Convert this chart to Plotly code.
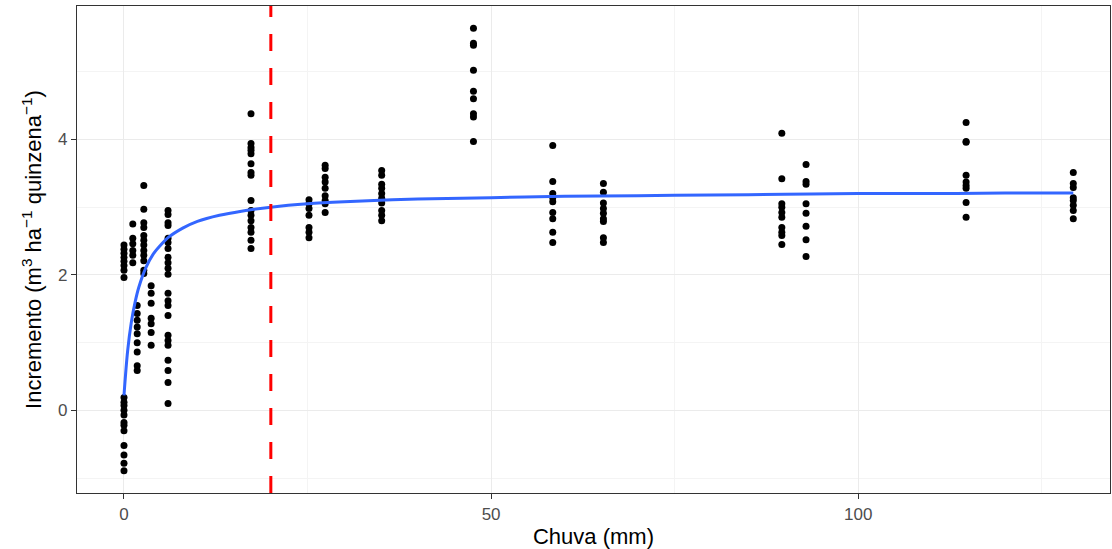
import plotly.graph_objects as go

# ---- data ----
chuva_niveis = [0, 1.2, 1.8, 2.7, 3.7, 6.0, 17.3, 25.2, 27.4, 35.1,
                47.6, 58.4, 65.3, 89.6, 92.9, 114.7, 129.3]

inc_0 = [2.44, 2.38, 2.32, 2.26, 2.20, 2.14, 2.07, 1.96,
         0.19, 0.12, 0.07, 0.0, -0.07, -0.18, -0.22, -0.30, -0.52, -0.66, -0.78, -0.89]
inc_1_2 = [2.75, 2.54, 2.46, 2.36, 2.29, 2.18]
inc_1_8 = [1.55, 1.43, 1.33, 1.23, 1.13, 1.00, 0.86, 0.66, 0.59]
inc_2_7 = [3.32, 2.97, 2.77, 2.70, 2.58, 2.51, 2.44, 2.36, 2.29, 2.21, 2.07, 2.02]
inc_3_7 = [1.84, 1.73, 1.58, 1.36, 1.28, 1.15, 0.96]
inc_6_0 = [2.95, 2.89, 2.77, 2.73, 2.54, 2.48, 2.39, 2.26, 2.18, 2.10, 2.01,
           1.73, 1.62, 1.55, 1.40, 1.11, 1.03, 0.96, 0.74, 0.59, 0.41, 0.10]
inc_17_3 = [4.38, 3.94, 3.88, 3.84, 3.79, 3.64, 3.51, 3.47, 3.10, 2.95, 2.88,
            2.80, 2.70, 2.63, 2.51, 2.39]
inc_25_2 = [3.11, 3.05, 2.98, 2.88, 2.70, 2.63, 2.55]
inc_27_4 = [3.62, 3.57, 3.44, 3.37, 3.28, 3.17, 3.10, 3.05, 2.92]
inc_35_1 = [3.54, 3.47, 3.34, 3.28, 3.20, 3.13, 3.06, 2.95, 2.88, 2.80]
inc_47_6 = [5.64, 5.42, 5.39, 5.02, 4.71, 4.60, 4.38, 4.33, 3.97]
inc_58_4 = [3.91, 3.38, 3.20, 3.14, 3.08, 2.92, 2.83, 2.63, 2.48]
inc_65_3 = [3.35, 3.22, 3.06, 2.98, 2.91, 2.83, 2.79, 2.55, 2.48]
inc_89_6 = [4.09, 3.42, 3.05, 3.00, 2.92, 2.85, 2.70, 2.63, 2.58, 2.45]
inc_92_9 = [3.63, 3.38, 3.34, 3.05, 2.91, 2.72, 2.52, 2.27]
inc_114_7 = [4.25, 3.97, 3.96, 3.47, 3.37, 3.32, 3.28, 3.07, 2.85]
inc_129_3 = [3.51, 3.35, 3.29, 3.14, 3.10, 3.03, 2.95, 2.83]

incremento_grupos = [inc_0, inc_1_2, inc_1_8, inc_2_7, inc_3_7, inc_6_0, inc_17_3,
                     inc_25_2, inc_27_4, inc_35_1, inc_47_6, inc_58_4, inc_65_3,
                     inc_89_6, inc_92_9, inc_114_7, inc_129_3]

# fitted curve (blue)
curva_x = [0, 0.5, 1, 1.5, 2, 3, 4, 5, 6, 8, 10, 13, 16, 20, 25, 30, 40, 50,
           60, 70, 80, 90, 100, 110, 120, 129.3]
curva_y = [0.22, 0.88, 1.30, 1.59, 1.81, 2.11, 2.31, 2.44, 2.55, 2.69, 2.79, 2.88,
           2.94, 3.00, 3.05, 3.08, 3.12, 3.14, 3.16, 3.17, 3.18, 3.19, 3.20, 3.20,
           3.21, 3.21]

limiar_chuva = 20

x_ticks = [0, 50, 100]
x_minor = [25, 75, 125]
y_ticks = [0, 2, 4]
y_minor = [-1, 1, 3, 5]

# ---- build figure ----
pts_x, pts_y = [], []
for xv, grupo in zip(chuva_niveis, incremento_grupos):
    pts_x += [xv] * len(grupo)
    pts_y += grupo

fig = go.Figure()
fig.add_trace(go.Scatter(x=pts_x, y=pts_y, mode="markers",
                         marker=dict(color="black", size=7, line=dict(width=0)),
                         hoverinfo="skip"))
fig.add_trace(go.Scatter(x=curva_x, y=curva_y, mode="lines",
                         line=dict(color="#3366FF", width=3, shape="spline"),
                         hoverinfo="skip"))

fig.add_shape(type="line", xref="x", yref="paper", x0=limiar_chuva, x1=limiar_chuva,
              y0=0, y1=1, line=dict(color="#FF0000", width=3, dash="17px,17px"),
              layer="above")

axis_common = dict(
    showgrid=True, gridcolor="#EBEBEB", gridwidth=1.1,
    zeroline=False, ticks="outside", ticklen=5, tickwidth=1, tickcolor="#333333",
    tickfont=dict(size=17, color="#4D4D4D", family="Liberation Sans"),
    showline=True, linecolor="#333333", linewidth=1.2, mirror=True,
)

fig.update_xaxes(range=[-6.4, 134.3], tickvals=x_ticks,
                 minor=dict(tickvals=x_minor, showgrid=True, gridcolor="#F4F4F4",
                            gridwidth=0.8, ticks=""),
                 title=dict(text="Chuva (mm)", font=dict(size=22, color="black"),
                            standoff=8),
                 **axis_common)
fig.update_yaxes(range=[-1.22, 5.97], tickvals=y_ticks,
                 minor=dict(tickvals=y_minor, showgrid=True, gridcolor="#F4F4F4",
                            gridwidth=0.8, ticks=""),
                 title=dict(text="Incremento (m<sup>3</sup> ha<sup>\u22121</sup> quinzena<sup>\u22121</sup>)",
                            font=dict(size=22, color="black"), standoff=10),
                 **axis_common)

fig.update_layout(width=1112, height=549,
                  margin=dict(l=77, r=2, t=6, b=56, autoexpand=False),
                  plot_bgcolor="white", paper_bgcolor="white",
                  showlegend=False,
                  font=dict(family="Liberation Sans"))

fig.write_html("out.html")
